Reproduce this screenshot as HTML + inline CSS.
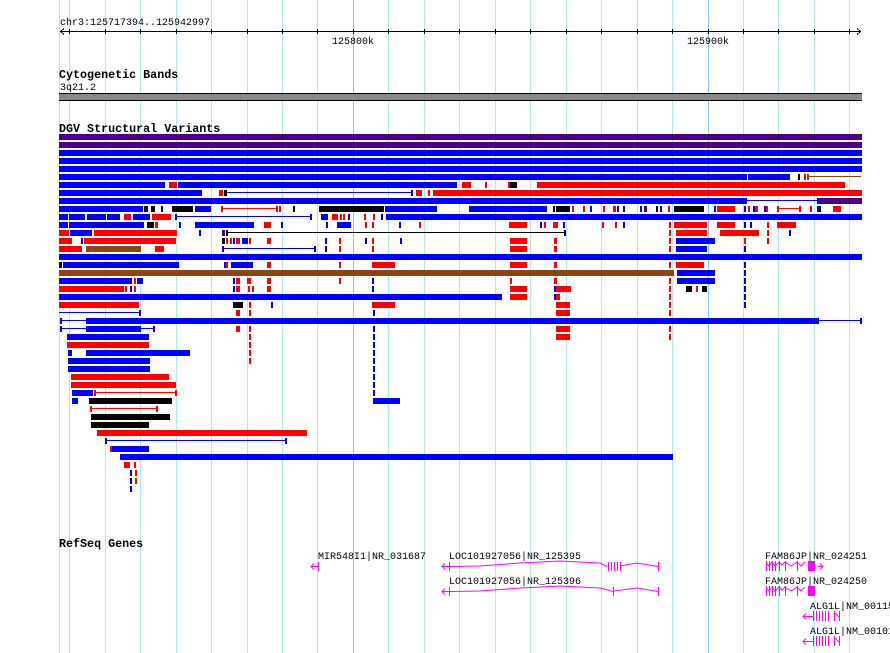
<!DOCTYPE html>
<html><head><meta charset="utf-8"><style>
html,body{margin:0;padding:0;background:#fff;width:890px;height:653px;overflow:hidden}
svg{display:block}
text{font-family:"Liberation Mono","DejaVu Sans Mono",monospace}
.b{fill:#0000ff}.r{fill:#ff0000}.k{fill:#000}.p{fill:#4b0082}.n{fill:#8b4513}.m{fill:#ff00ff}
</style></head><body>
<svg width="890" height="653" viewBox="0 0 890 653" xmlns="http://www.w3.org/2000/svg" shape-rendering="crispEdges">
<g stroke="#b0e8ee" stroke-width="1">
<line x1="59.5" y1="0" x2="59.5" y2="653"/><line x1="69.5" y1="0" x2="69.5" y2="653"/><line x1="105.5" y1="0" x2="105.5" y2="653"/><line x1="140.5" y1="0" x2="140.5" y2="653"/><line x1="176.5" y1="0" x2="176.5" y2="653"/><line x1="211.5" y1="0" x2="211.5" y2="653"/><line x1="247.5" y1="0" x2="247.5" y2="653"/><line x1="282.5" y1="0" x2="282.5" y2="653"/><line x1="317.5" y1="0" x2="317.5" y2="653"/><line x1="388.5" y1="0" x2="388.5" y2="653"/><line x1="424.5" y1="0" x2="424.5" y2="653"/><line x1="459.5" y1="0" x2="459.5" y2="653"/><line x1="495.5" y1="0" x2="495.5" y2="653"/><line x1="530.5" y1="0" x2="530.5" y2="653"/><line x1="566.5" y1="0" x2="566.5" y2="653"/><line x1="601.5" y1="0" x2="601.5" y2="653"/><line x1="637.5" y1="0" x2="637.5" y2="653"/><line x1="672.5" y1="0" x2="672.5" y2="653"/><line x1="743.5" y1="0" x2="743.5" y2="653"/><line x1="778.5" y1="0" x2="778.5" y2="653"/><line x1="814.5" y1="0" x2="814.5" y2="653"/><line x1="849.5" y1="0" x2="849.5" y2="653"/>
</g>
<g stroke="#8cc8e0"><line x1="353.5" y1="0" x2="353.5" y2="653"/><line x1="708.5" y1="0" x2="708.5" y2="653"/></g>

<!-- ruler -->
<text x="60" y="25" font-size="10">chr3:125717394..125942997</text>
<g stroke="#000" stroke-width="1" fill="none">
<line x1="60" y1="31.5" x2="861" y2="31.5"/>
<polyline points="64,28.5 60.5,31.5 64,34.5"/><polyline points="857,28.5 860.5,31.5 857,34.5"/>
<path d="M69.5 29v5M105.5 29v5M140.5 29v5M176.5 29v5M211.5 29v5M247.5 29v5M282.5 29v5M317.5 29v5M353.5 29v5M388.5 29v5M424.5 29v5M459.5 29v5M495.5 29v5M530.5 29v5M566.5 29v5M601.5 29v5M637.5 29v5M672.5 29v5M708.5 29v5M743.5 29v5M778.5 29v5M814.5 29v5M849.5 29v5"/>
</g>
<text x="353" y="44" font-size="10" text-anchor="middle">125800k</text>
<text x="708" y="44" font-size="10" text-anchor="middle">125900k</text>

<text x="59" y="78" font-size="11.7" font-weight="bold">Cytogenetic Bands</text>
<text x="60" y="90" font-size="10">3q21.2</text>
<rect x="59" y="93" width="803" height="8" class="k"/>
<rect x="59" y="94" width="803" height="6" fill="#888"/>

<text x="59" y="132" font-size="11.7" font-weight="bold">DGV Structural Variants</text>

<!-- rows -->
<rect x="59" y="134" width="803" height="6" class="p"/>
<rect x="59" y="142" width="803" height="6" class="p"/>
<rect x="59" y="150" width="803" height="6" class="b"/>
<rect x="59" y="158" width="803" height="6" class="b"/>
<rect x="59" y="166" width="803" height="6" class="b"/>
<!-- y174 -->
<rect x="59" y="174" width="688" height="6" class="b"/><rect x="748" y="174" width="42" height="6" class="b"/>
<rect x="798" y="174" width="2" height="6" class="k"/><rect x="804" y="174" width="2" height="6" class="r"/><rect x="807" y="174" width="2" height="6" class="n"/><rect x="809" y="176" width="52" height="1" class="n"/>
<!-- y182 -->
<rect x="59" y="182" width="106" height="6" class="b"/><rect x="169" y="182" width="8" height="6" class="r"/><rect x="178" y="182" width="279" height="6" class="b"/><rect x="462" y="182" width="9" height="6" class="r"/><rect x="485" y="182" width="2" height="6" class="r"/><rect x="508" y="182" width="2" height="6" class="r"/><rect x="510" y="182" width="7" height="6" class="k"/><rect x="537" y="182" width="308" height="6" class="r"/>
<!-- y190 -->
<rect x="59" y="190" width="143" height="6" class="b"/><rect x="219" y="190" width="4" height="6" class="r"/><rect x="224" y="190" width="3" height="6" class="k"/><rect x="227" y="192" width="185" height="1" class="b"/><rect x="411" y="190" width="2" height="6" class="b"/><rect x="416" y="190" width="6" height="6" class="r"/><rect x="428" y="190" width="2" height="6" class="r"/><rect x="433" y="190" width="429" height="6" class="r"/>
<!-- y198 -->
<rect x="59" y="198" width="688" height="6" class="b"/><rect x="747" y="200" width="70" height="1" class="b"/><rect x="817" y="198" width="2" height="6" class="b"/><rect x="819" y="198" width="43" height="6" class="p"/>
<!-- y206 -->
<rect x="59" y="206" width="84" height="6" class="b"/><rect x="144" y="206" width="4" height="6" class="k"/><rect x="151" y="206" width="4" height="6" class="k"/><rect x="161" y="206" width="2" height="6" class="b"/><rect x="172" y="206" width="21" height="6" class="k"/><rect x="195" y="206" width="16" height="6" class="b"/><rect x="221" y="206" width="2" height="6" class="r"/><rect x="222" y="208" width="54" height="1" class="r"/><rect x="276" y="206" width="2" height="6" class="r"/><rect x="279" y="206" width="2" height="6" class="r"/><rect x="293" y="206" width="2" height="6" class="k"/><rect x="319" y="206" width="65" height="6" class="k"/><rect x="385" y="206" width="52" height="6" class="b"/>
<rect x="469" y="206" width="78" height="6" class="b"/><rect x="553" y="206" width="2" height="6" class="k"/><rect x="556" y="206" width="14" height="6" class="k"/><rect x="572" y="206" width="2" height="6" class="r"/><rect x="583" y="206" width="2" height="6" class="r"/><rect x="590" y="206" width="2" height="6" class="b"/><rect x="603" y="206" width="2" height="6" class="r"/><rect x="613" y="206" width="3" height="6" class="r"/><rect x="617" y="206" width="2" height="6" class="b"/><rect x="623" y="206" width="2" height="6" class="b"/><rect x="640" y="206" width="2" height="6" class="b"/><rect x="644" y="206" width="3" height="6" class="p"/><rect x="656" y="206" width="2" height="6" class="k"/><rect x="660" y="206" width="2" height="6" class="b"/><rect x="668" y="206" width="2" height="6" class="r"/><rect x="674" y="206" width="30" height="6" class="k"/><rect x="714" y="206" width="2" height="6" class="b"/><rect x="717" y="206" width="18" height="6" class="r"/><rect x="744" y="206" width="2" height="6" class="b"/><rect x="748" y="206" width="2" height="6" class="r"/><rect x="753" y="206" width="2" height="6" class="b"/><rect x="755" y="206" width="3" height="6" class="r"/><rect x="764" y="206" width="2" height="6" class="b"/><rect x="766" y="206" width="2" height="6" class="r"/><rect x="777" y="206" width="2" height="6" class="r"/><rect x="778" y="208" width="22" height="1" class="r"/><rect x="799" y="206" width="2" height="6" class="r"/><rect x="810" y="206" width="2" height="6" class="r"/><rect x="817" y="206" width="2" height="6" class="b"/><rect x="819" y="206" width="2" height="6" class="k"/><rect x="833" y="206" width="8" height="6" class="r"/>
<!-- y214 -->
<rect x="59" y="214" width="9" height="6" class="b"/><rect x="69" y="214" width="16" height="6" class="b"/><rect x="87" y="214" width="19" height="6" class="b"/><rect x="107" y="214" width="13" height="6" class="b"/><rect x="124" y="214" width="7" height="6" class="r"/><rect x="133" y="214" width="17" height="6" class="b"/><rect x="152" y="214" width="19" height="6" class="r"/><rect x="175" y="214" width="2" height="6" class="b"/><rect x="176" y="216" width="135" height="1" class="b"/><rect x="310" y="214" width="2" height="6" class="b"/><rect x="321" y="214" width="7" height="6" class="b"/><rect x="332" y="214" width="6" height="6" class="r"/><rect x="340" y="214" width="2" height="6" class="r"/><rect x="343" y="214" width="2" height="6" class="r"/><rect x="348" y="214" width="2" height="6" class="b"/><rect x="364" y="214" width="2" height="6" class="r"/><rect x="373" y="214" width="2" height="6" class="r"/><rect x="381" y="214" width="2" height="6" class="b"/><rect x="386" y="214" width="476" height="6" class="b"/>
<!-- y222 -->
<rect x="59" y="222" width="9" height="6" class="b"/><rect x="69" y="222" width="75" height="6" class="b"/><rect x="147" y="222" width="7" height="6" class="k"/><rect x="155" y="222" width="3" height="6" class="r"/><rect x="179" y="222" width="2" height="6" class="b"/><rect x="195" y="222" width="59" height="6" class="b"/><rect x="264" y="222" width="7" height="6" class="r"/><rect x="281" y="222" width="2" height="6" class="b"/><rect x="326" y="222" width="2" height="6" class="b"/><rect x="337" y="222" width="14" height="6" class="b"/><rect x="365" y="222" width="2" height="6" class="r"/><rect x="372" y="222" width="2" height="6" class="r"/><rect x="399" y="222" width="2" height="6" class="b"/><rect x="419" y="222" width="2" height="6" class="r"/>
<rect x="509" y="222" width="18" height="6" class="r"/><rect x="540" y="222" width="2" height="6" class="b"/><rect x="544" y="222" width="2" height="6" class="r"/><rect x="553" y="222" width="5" height="6" class="r"/><rect x="563" y="222" width="2" height="6" class="b"/><rect x="602" y="222" width="2" height="6" class="r"/><rect x="615" y="222" width="2" height="6" class="r"/><rect x="623" y="222" width="2" height="6" class="b"/><rect x="669" y="222" width="2" height="6" class="r"/><rect x="674" y="222" width="33" height="6" class="r"/><rect x="717" y="222" width="18" height="6" class="r"/><rect x="744" y="222" width="2" height="6" class="b"/><rect x="750" y="222" width="2" height="6" class="b"/><rect x="767" y="222" width="2" height="6" class="r"/><rect x="777" y="222" width="19" height="6" class="r"/>
<!-- y230 -->
<rect x="59" y="230" width="10" height="6" class="r"/><rect x="70" y="230" width="22" height="6" class="b"/><rect x="94" y="230" width="83" height="6" class="r"/><rect x="199" y="230" width="2" height="6" class="b"/><rect x="222" y="230" width="3" height="6" class="p"/><rect x="226" y="230" width="2" height="6" class="k"/><rect x="228" y="232" width="337" height="1" class="k"/><rect x="564" y="230" width="2" height="6" class="k"/><rect x="669" y="230" width="2" height="6" class="r"/><rect x="676" y="230" width="31" height="6" class="r"/><rect x="720" y="230" width="39" height="6" class="r"/><rect x="767" y="230" width="2" height="6" class="r"/><rect x="789" y="230" width="2" height="6" class="b"/>
<!-- y238 -->
<rect x="59" y="238" width="13" height="6" class="r"/><rect x="81" y="238" width="2" height="6" class="b"/><rect x="84" y="238" width="92" height="6" class="r"/><rect x="222" y="238" width="3" height="6" class="k"/><rect x="226" y="238" width="2" height="6" class="r"/><rect x="230" y="238" width="2" height="6" class="r"/><rect x="233" y="238" width="2" height="6" class="b"/><rect x="236" y="238" width="4" height="6" class="r"/><rect x="242" y="238" width="6" height="6" class="b"/><rect x="249" y="238" width="2" height="6" class="r"/><rect x="267" y="238" width="4" height="6" class="r"/><rect x="325" y="238" width="2" height="6" class="b"/><rect x="339" y="238" width="2" height="6" class="r"/><rect x="365" y="238" width="2" height="6" class="b"/><rect x="372" y="238" width="2" height="6" class="r"/><rect x="400" y="238" width="2" height="6" class="b"/><rect x="510" y="238" width="17" height="6" class="r"/><rect x="554" y="238" width="3" height="6" class="r"/><rect x="669" y="238" width="2" height="6" class="r"/><rect x="676" y="238" width="39" height="6" class="b"/><rect x="744" y="238" width="2" height="6" class="r"/><rect x="767" y="238" width="2" height="6" class="r"/>
<!-- y246 -->
<rect x="59" y="246" width="23" height="6" class="r"/><rect x="86" y="246" width="55" height="6" class="n"/><rect x="155" y="246" width="9" height="6" class="r"/><rect x="222" y="246" width="2" height="6" class="b"/><rect x="223" y="248" width="92" height="1" class="b"/><rect x="314" y="246" width="2" height="6" class="b"/><rect x="325" y="246" width="2" height="6" class="b"/><rect x="339" y="246" width="2" height="6" class="r"/><rect x="372" y="246" width="2" height="6" class="r"/><rect x="510" y="246" width="17" height="6" class="r"/><rect x="554" y="246" width="3" height="6" class="r"/><rect x="669" y="246" width="2" height="6" class="r"/><rect x="676" y="246" width="31" height="6" class="b"/><rect x="744" y="246" width="2" height="6" class="b"/>
<!-- y254 -->
<rect x="59" y="254" width="803" height="6" class="b"/>
<!-- y262 -->
<rect x="59" y="262" width="3" height="6" class="k"/><rect x="63" y="262" width="116" height="6" class="b"/><rect x="224" y="262" width="2" height="6" class="b"/><rect x="226" y="262" width="2" height="6" class="r"/><rect x="231" y="262" width="22" height="6" class="b"/><rect x="267" y="262" width="4" height="6" class="r"/><rect x="339" y="262" width="2" height="6" class="r"/><rect x="372" y="262" width="23" height="6" class="r"/><rect x="510" y="262" width="17" height="6" class="r"/><rect x="554" y="262" width="3" height="6" class="r"/><rect x="669" y="262" width="2" height="6" class="r"/><rect x="676" y="262" width="28" height="6" class="r"/><rect x="744" y="262" width="2" height="6" class="b"/>
<!-- y270 -->
<rect x="59" y="270" width="615" height="6" class="n"/><rect x="677" y="270" width="38" height="6" class="b"/><rect x="744" y="270" width="2" height="6" class="b"/>
<!-- y278 -->
<rect x="59" y="278" width="73" height="6" class="b"/><rect x="134" y="278" width="2" height="6" class="r"/><rect x="137" y="278" width="6" height="6" class="b"/><rect x="233" y="278" width="2" height="6" class="b"/><rect x="236" y="278" width="4" height="6" class="r"/><rect x="247" y="278" width="4" height="6" class="r"/><rect x="267" y="278" width="4" height="6" class="r"/><rect x="339" y="278" width="2" height="6" class="r"/><rect x="372" y="278" width="2" height="6" class="b"/><rect x="510" y="278" width="2" height="6" class="r"/><rect x="554" y="278" width="3" height="6" class="r"/><rect x="669" y="278" width="2" height="6" class="r"/><rect x="677" y="278" width="38" height="6" class="b"/><rect x="744" y="278" width="2" height="6" class="b"/>
<!-- y286 -->
<rect x="59" y="286" width="65" height="6" class="r"/><rect x="125" y="286" width="2" height="6" class="r"/><rect x="130" y="286" width="2" height="6" class="b"/><rect x="134" y="286" width="2" height="6" class="r"/><rect x="233" y="286" width="2" height="6" class="b"/><rect x="236" y="286" width="4" height="6" class="r"/><rect x="248" y="286" width="2" height="6" class="r"/><rect x="252" y="286" width="2" height="6" class="r"/><rect x="267" y="286" width="4" height="6" class="r"/><rect x="372" y="286" width="2" height="6" class="b"/><rect x="510" y="286" width="17" height="6" class="r"/><rect x="554" y="286" width="2" height="6" class="b"/><rect x="556" y="286" width="15" height="6" class="r"/><rect x="669" y="286" width="2" height="6" class="r"/><rect x="686" y="286" width="6" height="6" class="k"/><rect x="696" y="286" width="2" height="6" class="r"/><rect x="702" y="286" width="5" height="6" class="k"/><rect x="744" y="286" width="2" height="6" class="b"/>
<!-- y294 -->
<rect x="59" y="294" width="443" height="6" class="b"/><rect x="510" y="294" width="17" height="6" class="r"/><rect x="554" y="294" width="2" height="6" class="b"/><rect x="556" y="294" width="4" height="6" class="r"/><rect x="669" y="294" width="2" height="6" class="r"/><rect x="744" y="294" width="2" height="6" class="b"/>
<!-- y302 -->
<rect x="59" y="302" width="80" height="6" class="r"/><rect x="233" y="302" width="10" height="6" class="k"/><rect x="249" y="302" width="2" height="6" class="r"/><rect x="271" y="302" width="2" height="6" class="b"/><rect x="372" y="302" width="23" height="6" class="r"/><rect x="556" y="302" width="14" height="6" class="r"/><rect x="669" y="302" width="2" height="6" class="r"/><rect x="744" y="302" width="2" height="6" class="b"/>
<!-- y310 -->
<rect x="59" y="312" width="81" height="1" class="b"/><rect x="139" y="310" width="2" height="6" class="b"/><rect x="236" y="310" width="4" height="6" class="r"/><rect x="249" y="310" width="2" height="6" class="r"/><rect x="373" y="310" width="2" height="6" class="b"/><rect x="556" y="310" width="14" height="6" class="r"/><rect x="669" y="310" width="2" height="6" class="r"/>
<!-- y318 -->
<rect x="60" y="318" width="2" height="6" class="b"/><rect x="62" y="320" width="24" height="1" class="b"/><rect x="86" y="318" width="733" height="6" class="b"/><rect x="819" y="320" width="42" height="1" class="b"/><rect x="860" y="318" width="2" height="6" class="b"/>
<!-- y326 -->
<rect x="60" y="326" width="2" height="6" class="b"/><rect x="62" y="328" width="92" height="1" class="b"/><rect x="86" y="326" width="55" height="6" class="b"/><rect x="153" y="326" width="2" height="6" class="b"/><rect x="236" y="326" width="4" height="6" class="r"/><rect x="249" y="326" width="2" height="6" class="r"/><rect x="373" y="326" width="2" height="6" class="b"/><rect x="556" y="326" width="14" height="6" class="r"/><rect x="669" y="326" width="2" height="6" class="r"/>
<!-- y334 .. -->
<rect x="67" y="334" width="82" height="6" class="b"/><rect x="249" y="334" width="2" height="6" class="r"/><rect x="373" y="334" width="2" height="6" class="b"/><rect x="556" y="334" width="14" height="6" class="r"/><rect x="669" y="334" width="2" height="6" class="r"/>
<rect x="67" y="342" width="82" height="6" class="r"/><rect x="249" y="342" width="2" height="6" class="r"/><rect x="373" y="342" width="2" height="6" class="b"/>
<rect x="68" y="350" width="4" height="6" class="b"/><rect x="86" y="350" width="104" height="6" class="b"/><rect x="249" y="350" width="2" height="6" class="r"/><rect x="373" y="350" width="2" height="6" class="b"/>
<rect x="68" y="358" width="82" height="6" class="b"/><rect x="249" y="358" width="2" height="6" class="r"/><rect x="373" y="358" width="2" height="6" class="b"/>
<rect x="68" y="366" width="82" height="6" class="b"/><rect x="373" y="366" width="2" height="6" class="b"/>
<rect x="71" y="374" width="98" height="6" class="r"/><rect x="373" y="374" width="2" height="6" class="b"/>
<rect x="71" y="382" width="105" height="6" class="r"/><rect x="373" y="382" width="2" height="6" class="b"/>
<rect x="72" y="390" width="21" height="6" class="b"/><rect x="94" y="390" width="2" height="6" class="r"/><rect x="95" y="392" width="81" height="1" class="r"/><rect x="175" y="390" width="2" height="6" class="r"/><rect x="373" y="390" width="2" height="6" class="b"/>
<rect x="72" y="398" width="6" height="6" class="b"/><rect x="89" y="398" width="83" height="6" class="k"/><rect x="373" y="398" width="27" height="6" class="b"/>
<rect x="90" y="406" width="2" height="6" class="r"/><rect x="91" y="408" width="66" height="1" class="r"/><rect x="156" y="406" width="2" height="6" class="r"/>
<rect x="91" y="414" width="79" height="6" class="k"/>
<rect x="91" y="422" width="58" height="6" class="k"/>
<rect x="97" y="430" width="210" height="6" class="r"/>
<rect x="105" y="438" width="2" height="6" class="b"/><rect x="106" y="440" width="180" height="1" class="b"/><rect x="285" y="438" width="2" height="6" class="b"/>
<rect x="110" y="446" width="2" height="6" class="r"/><rect x="112" y="446" width="37" height="6" class="b"/>
<rect x="120" y="454" width="553" height="6" class="b"/>
<rect x="124" y="462" width="6" height="6" class="r"/><rect x="134" y="462" width="2" height="6" class="r"/>
<rect x="130" y="470" width="2" height="6" class="b"/><rect x="135" y="470" width="2" height="6" class="r"/>
<rect x="130" y="478" width="2" height="6" class="b"/><rect x="135" y="478" width="2" height="6" class="r"/>
<rect x="130" y="486" width="2" height="6" class="b"/>

<!-- RefSeq -->
<text x="59" y="547" font-size="11.7" font-weight="bold">RefSeq Genes</text>
<g font-size="10">
<text x="318" y="559">MIR548I1|NR_031687</text>
<text x="449" y="559">LOC101927056|NR_125395</text>
<text x="449" y="584">LOC101927056|NR_125396</text>
<text x="765" y="559">FAM86JP|NR_024251</text>
<text x="765" y="584">FAM86JP|NR_024250</text>
<text x="810" y="609">ALG1L|NM_001150</text>
<text x="810" y="634">ALG1L|NM_001015</text>
</g>
<g stroke="#ff00ff" fill="none" stroke-width="1" shape-rendering="auto">
<path d="M311 566.5h8M314 563.5l-3 3 3 3"/><path d="M318.5 562v9"/>
<path d="M442 566.5h8M445 563.5l-3 3 3 3M449.5 562v9M450 566.5 L480 566 L520 563 L560 561 L600 563 L607 566.5 M620 566 L637 563 L658 566.5 M658.5 562v9"/>
<path d="M608.5 562v9M611.5 562v9M614.5 562v9M617.5 562v9M620.5 562v9"/>
<path d="M442 591.5h8M445 588.5l-3 3 3 3M449.5 587v9M450 591.5 L480 591 L520 588 L560 586 L600 588 L613 591.5 M613.5 587v9 M614 591 L637 588 L658 591.5 M658.5 587v9"/>
<path d="M766.5 561v10M769.5 561v10M772.5 561v10M775.5 561v10M779.5 561v10M785.5 561v10M797.5 561v10M766 562l3 4 3-4 3 4 4-4 3 3 3-3 6 4 6-4 4 4 4-4M818 566.5h5M820 563.5l3 3-3 3"/>
<path d="M766.5 586v10M769.5 586v10M772.5 586v10M775.5 586v10M779.5 586v10M785.5 586v10M797.5 586v10M766 587l3 4 3-4 3 4 4-4 3 3 3-3 6 4 6-4 4 4 4-4"/>
<path d="M803 616.5h10M806 613.5l-3 3 3 3M813.5 611v10M816.5 611v10M819.5 611v10M822.5 611v10M825.5 611v10M828.5 611v10M834.5 611v10M839.5 611v10M834 612l2 2 3 3"/>
<path d="M803 641.5h10M806 638.5l-3 3 3 3M813.5 636v10M816.5 636v10M819.5 636v10M822.5 636v10M825.5 636v10M828.5 636v10M834.5 636v10M839.5 636v10M834 637l2 2 3 3"/>
</g>
<rect x="808" y="561" width="7" height="10" class="m"/>
<rect x="808" y="586" width="7" height="10" class="m"/>
</svg>
</body></html>
